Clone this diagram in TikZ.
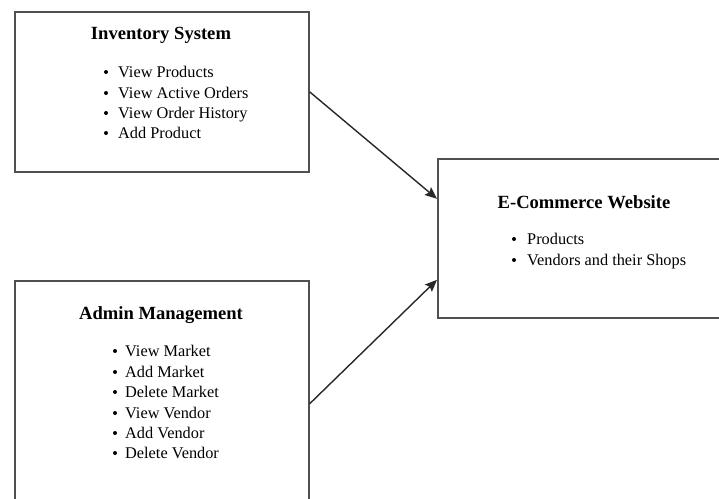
\documentclass[tikz,border=0pt]{standalone}
\usepackage{fontspec}
\setmainfont{Liberation Serif}
\usetikzlibrary{arrows.meta}
\definecolor{boxgray}{RGB}{80,80,80}
\definecolor{arrowgray}{RGB}{40,40,40}
\begin{document}
\begin{tikzpicture}[x=1pt,y=-1pt,
  panel/.style={draw=boxgray,line width=1.6pt,fill=white,inner sep=0pt,anchor=north west},
  title/.style={font=\fontsize{18.6}{22}\selectfont\bfseries,anchor=base,inner sep=0pt},
  item/.style={font=\fontsize{16.3}{20}\selectfont,anchor=base west,inner sep=0pt},
  dot/.style={fill=black,draw=none},
  link/.style={draw=arrowgray,line width=1.4pt,-{Stealth[length=12pt,width=10pt,inset=2pt]}}]
\clip (0,0) rectangle (719,498);
\fill[white] (0,0) rectangle (719,498);
% boxes
\node[panel,minimum width=294pt,minimum height=160pt] (inv) at (14,11) {};
\node[panel,minimum width=294pt,minimum height=246pt] (adm) at (14,280) {};
\node[panel,minimum width=330pt,minimum height=159pt] (eco) at (437,158) {};
% Inventory System
\node[title] (invt) at (161,39) {Inventory System};
\foreach \t/\y [count=\i] in {View Products/72,View Active Orders/93,View Order History/113,Add Product/133}{
  \fill[dot] (106,\y) circle (2pt);
  \node[item] (inv\i) at (118,\y+5.5) {\t};
}
% Admin Management
\node[title] (admt) at (161,319) {Admin Management};
\foreach \t/\y [count=\i] in {View Market/351,Add Market/372,Delete Market/392,View Vendor/413,Add Vendor/433,Delete Vendor/453}{
  \fill[dot] (115,\y) circle (2pt);
  \node[item] (adm\i) at (125,\y+5.5) {\t};
}
% E-Commerce Website
\node[title] (ecot) at (584,208) {E-Commerce Website};
\foreach \t/\y [count=\i] in {Products/239,Vendors and their Shops/260}{
  \fill[dot] (514,\y) circle (2pt);
  \node[item] (eco\i) at (527,\y+5.5) {\t};
}
% connectors
\draw[link] (inv.east) -- ([yshift=39.5pt]eco.west);
\draw[link] (adm.east) -- ([yshift=-41.5pt]eco.west);
\end{tikzpicture}
\end{document}
